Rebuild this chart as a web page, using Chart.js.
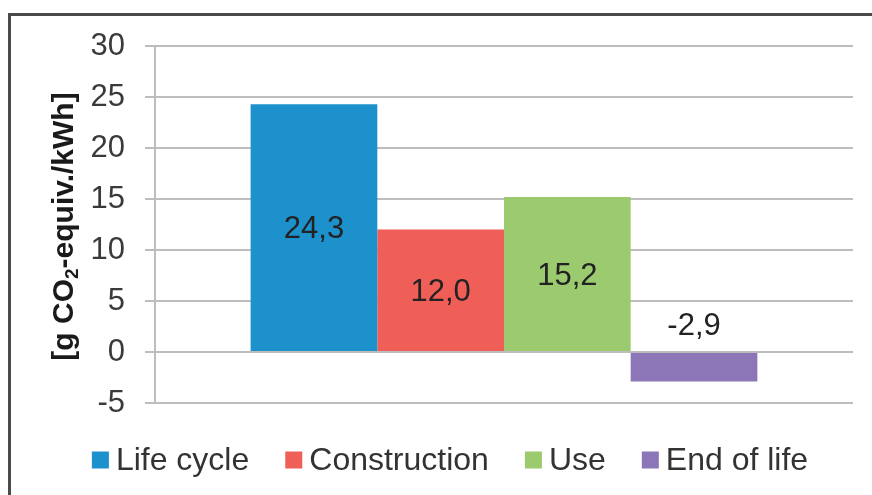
<!DOCTYPE html>
<html>
<head>
<meta charset="utf-8">
<script src="https://cdn.jsdelivr.net/npm/chart.js@4.4.1/dist/chart.umd.min.js"></script>
<style>
    html, body { margin: 0; padding: 0; background: #fff; overflow: hidden; }
    #frame {
        position: absolute; left: 8px; top: 13px;
        width: 900px; height: 520px;
        border: 3px solid #4a4a4a;
    }
    #wrap { position: absolute; left: 0; top: 0; width: 872px; height: 495px; }
</style>
</head>
<body>
<div id="frame"></div>
<div id="wrap"><canvas id="myChart" width="872" height="495"></canvas></div>
<script>
// phases and their emissions
const phases = ['Life cycle', 'Construction', 'Use', 'End of life'];
const emissions = [24.3, 12.0, 15.2, -2.9];
const colours = ['#1c91cc', '#ef5f58', '#9bcb6e', '#8d76b7'];
const yTicks = [-5, 0, 5, 10, 15, 20, 25, 30];

const FONT = "'Liberation Sans', Arial, sans-serif";

// one dataset per phase so the legend lists them all
const datasets = phases.map((p, i) => ({
    label: p,
    data: [emissions[i]],
    backgroundColor: colours[i],
    borderWidth: 0,
}));

// value inside the bar, or above the zero line when negative
const barLabels = {
    id: 'barLabels',
    afterDatasetsDraw(chart) {
        const ctx = chart.ctx;
        ctx.save();
        ctx.font = '31px ' + FONT;
        ctx.fillStyle = '#222';
        ctx.textAlign = 'center';
        ctx.textBaseline = 'middle';
        chart.data.datasets.forEach((ds, i) => {
            const bar = chart.getDatasetMeta(i).data[0];
            const v = ds.data[0];
            const txt = v.toFixed(1).replace('.', ',');
            let y;
            if (v >= 0) {
                y = (bar.y + bar.base) / 2 + 2;
            } else {
                y = bar.base - 27;
            }
            ctx.fillText(txt, bar.x, y);
        });
        ctx.restore();
    }
};

// rotated unit title with a real subscript
const yTitle = {
    id: 'yTitle',
    afterDraw(chart) {
        const ctx = chart.ctx;
        const area = chart.chartArea;
        const parts = [
            { t: '[g CO', size: 30, dy: 0 },
            { t: '2', size: 19, dy: 8 },
            { t: '-equiv./kWh]', size: 30, dy: 0 },
        ];
        ctx.save();
        ctx.translate(65, (area.top + area.bottom) / 2 + 2);
        ctx.rotate(-Math.PI / 2);
        ctx.fillStyle = '#1a1a1a';
        ctx.textBaseline = 'middle';
        let total = 0;
        parts.forEach(p => {
            ctx.font = 'bold ' + p.size + 'px ' + FONT;
            p.w = ctx.measureText(p.t).width;
            total += p.w;
        });
        let x = -total / 2;
        parts.forEach(p => {
            ctx.font = 'bold ' + p.size + 'px ' + FONT;
            ctx.fillText(p.t, x, p.dy);
            x += p.w;
        });
        ctx.restore();
    }
};

// legend row along the bottom: small square, tight gap, then the name
const bottomLegend = {
    id: 'bottomLegend',
    afterDraw(chart) {
        const ctx = chart.ctx;
        const box = 17, gap = 7, spacing = 36, y = 460;
        ctx.save();
        ctx.font = '32px ' + FONT;
        ctx.textBaseline = 'middle';
        const widths = phases.map(p => ctx.measureText(p).width);
        let total = widths.reduce((a, w) => a + box + gap + w, 0) + spacing * (phases.length - 1);
        let x = (chart.width - total) / 2 + 14;
        phases.forEach((p, i) => {
            ctx.fillStyle = colours[i];
            ctx.fillRect(x, y - box / 2, box, box);
            ctx.fillStyle = '#333';
            ctx.fillText(p, x + box + gap, y + 1);
            x += box + gap + widths[i] + spacing;
        });
        ctx.restore();
    }
};

const chart = new Chart(document.getElementById('myChart').getContext('2d'), {
    type: 'bar',
    data: {
        labels: [''],
        datasets: datasets,
    },
    options: {
        responsive: false,
        animation: false,
        layout: { padding: { top: 46, right: 19, bottom: 92, left: 0 } },
        datasets: { bar: { barPercentage: 1, categoryPercentage: 0.726 } },
        scales: {
            x: { display: false },
            y: {
                min: -5,
                max: 30,
                afterFit(scale) { scale.width = 155; },
                afterBuildTicks(scale) { scale.ticks = yTicks.map(v => ({ value: v })); },
                border: { display: true, color: '#bdbdbd', width: 2 },
                grid: { color: '#bdbdbd', lineWidth: 2, tickLength: 10 },
                ticks: {
                    padding: 20,
                    color: '#3a3a3a',
                    font: { size: 31, family: FONT },
                },
            },
        },
        plugins: {
            legend: { display: false },
            tooltip: { enabled: false },
        },
    },
    plugins: [barLabels, yTitle, bottomLegend],
});
</script>
</body>
</html>
